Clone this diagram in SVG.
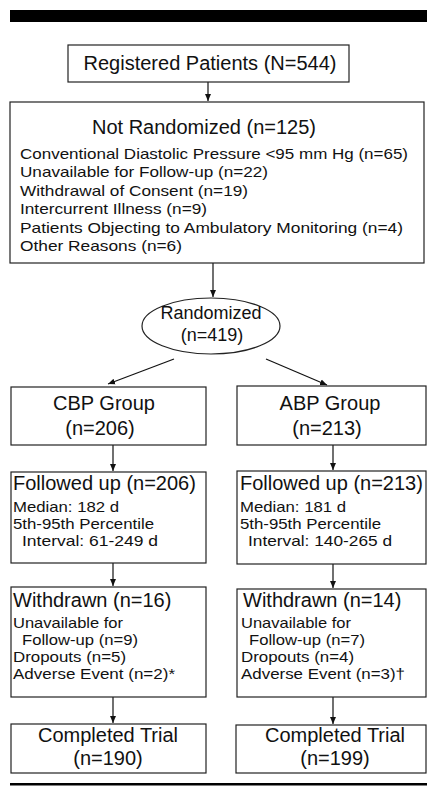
<svg xmlns="http://www.w3.org/2000/svg" width="427" height="788" viewBox="0 0 427 788">
<defs>
<marker id="ah" markerWidth="8" markerHeight="8" refX="7" refY="4" orient="auto" markerUnits="userSpaceOnUse">
<path d="M0,1 L7,4 L0,7 Z" fill="#111"/>
</marker>
<style>
.box{fill:#fff;stroke:#222;stroke-width:1.2}
.t{font-family:"Liberation Sans",Arial,Helvetica,sans-serif;fill:#111}
.big{font-size:20px}
.sm{font-size:15px}
.mid{text-anchor:middle}
.ln{stroke:#111;stroke-width:1.2;fill:none;marker-end:url(#ah)}
</style>
</defs>
<rect width="427" height="788" fill="#fff"/>
<rect x="10" y="10" width="417" height="12" fill="#000"/>
<rect x="10" y="783" width="417" height="2.5" fill="#000"/>

<g id="connectors">
<line class="ln" x1="208" y1="82" x2="208" y2="101"/>
<line class="ln" x1="213" y1="263" x2="213" y2="297"/>
<line class="ln" x1="174" y1="359" x2="108" y2="384"/>
<line class="ln" x1="266" y1="359" x2="327" y2="385"/>
<line class="ln" x1="113" y1="445" x2="113" y2="471"/>
<line class="ln" x1="333" y1="445" x2="333" y2="470"/>
<line class="ln" x1="113" y1="563" x2="113" y2="586"/>
<line class="ln" x1="333" y1="564" x2="333" y2="588"/>
<line class="ln" x1="113" y1="697" x2="113" y2="723"/>
<line class="ln" x1="333" y1="697" x2="333" y2="724"/>
</g>

<g id="registered">
<rect class="box" x="68" y="45" width="281" height="37"/>
<text class="t big mid" x="210" y="70">Registered Patients (N=544)</text>
</g>

<g id="not-randomized">
<rect class="box" x="10" y="102" width="414" height="161"/>
<text class="t big mid" x="204" y="134">Not Randomized (n=125)</text>
<text class="t sm" x="20" y="158.5" textLength="388" lengthAdjust="spacingAndGlyphs">Conventional Diastolic Pressure &lt;95 mm Hg (n=65)</text>
<text class="t sm" x="20" y="177" textLength="248" lengthAdjust="spacingAndGlyphs">Unavailable for Follow-up (n=22)</text>
<text class="t sm" x="20" y="195.5" textLength="228" lengthAdjust="spacingAndGlyphs">Withdrawal of Consent (n=19)</text>
<text class="t sm" x="20" y="214" textLength="187" lengthAdjust="spacingAndGlyphs">Intercurrent Illness (n=9)</text>
<text class="t sm" x="20" y="232.5" textLength="383" lengthAdjust="spacingAndGlyphs">Patients Objecting to Ambulatory Monitoring (n=4)</text>
<text class="t sm" x="20" y="251" textLength="162" lengthAdjust="spacingAndGlyphs">Other Reasons (n=6)</text>
</g>

<g id="randomized">
<ellipse cx="211" cy="326" rx="69" ry="28" fill="#fff" stroke="#222" stroke-width="1.2"/>
<text class="t mid" style="font-size:18px" x="211" y="319">Randomized</text>
<text class="t mid" style="font-size:18px" x="212" y="341">(n=419)</text>
</g>

<g id="cbp-group">
<rect class="box" x="11" y="387" width="195" height="58"/>
<text class="t big mid" x="104" y="410">CBP Group</text>
<text class="t big mid" x="100" y="435">(n=206)</text>
</g>

<g id="abp-group">
<rect class="box" x="237" y="386" width="189" height="59"/>
<text class="t big mid" x="330" y="410">ABP Group</text>
<text class="t big mid" x="327" y="435">(n=213)</text>
</g>

<g id="cbp-followed">
<rect class="box" x="11" y="472" width="195" height="91"/>
<text class="t big" x="13" y="490">Followed up (n=206)</text>
<text class="t sm" x="13" y="512" textLength="106" lengthAdjust="spacingAndGlyphs">Median: 182 d</text>
<text class="t sm" x="13" y="529" textLength="141" lengthAdjust="spacingAndGlyphs">5th-95th Percentile</text>
<text class="t sm" x="22" y="546" textLength="136" lengthAdjust="spacingAndGlyphs">Interval: 61-249 d</text>
</g>

<g id="abp-followed">
<rect class="box" x="237" y="471" width="189" height="93"/>
<text class="t big" x="240" y="490">Followed up (n=213)</text>
<text class="t sm" x="240" y="512" textLength="106" lengthAdjust="spacingAndGlyphs">Median: 181 d</text>
<text class="t sm" x="240" y="529" textLength="141" lengthAdjust="spacingAndGlyphs">5th-95th Percentile</text>
<text class="t sm" x="248" y="546" textLength="144" lengthAdjust="spacingAndGlyphs">Interval: 140-265 d</text>
</g>

<g id="cbp-withdrawn">
<rect class="box" x="11" y="587" width="195" height="110"/>
<text class="t big" x="13" y="607">Withdrawn (n=16)</text>
<text class="t sm" x="13" y="628" textLength="110" lengthAdjust="spacingAndGlyphs">Unavailable for</text>
<text class="t sm" x="22" y="645" textLength="116" lengthAdjust="spacingAndGlyphs">Follow-up (n=9)</text>
<text class="t sm" x="13" y="662" textLength="113" lengthAdjust="spacingAndGlyphs">Dropouts (n=5)</text>
<text class="t sm" x="13" y="679" textLength="162" lengthAdjust="spacingAndGlyphs">Adverse Event (n=2)*</text>
</g>

<g id="abp-withdrawn">
<rect class="box" x="237" y="589" width="189" height="108"/>
<text class="t big" x="243" y="607">Withdrawn (n=14)</text>
<text class="t sm" x="241" y="628" textLength="110" lengthAdjust="spacingAndGlyphs">Unavailable for</text>
<text class="t sm" x="249" y="645" textLength="116" lengthAdjust="spacingAndGlyphs">Follow-up (n=7)</text>
<text class="t sm" x="241" y="662" textLength="113" lengthAdjust="spacingAndGlyphs">Dropouts (n=4)</text>
<text class="t sm" x="241" y="679" textLength="164" lengthAdjust="spacingAndGlyphs">Adverse Event (n=3)†</text>
</g>

<g id="cbp-completed">
<rect class="box" x="11" y="724" width="195" height="49"/>
<text class="t big mid" x="108" y="742">Completed Trial</text>
<text class="t big mid" x="108" y="765">(n=190)</text>
</g>

<g id="abp-completed">
<rect class="box" x="236" y="725" width="190" height="48"/>
<text class="t big mid" x="335" y="742">Completed Trial</text>
<text class="t big mid" x="335" y="765">(n=199)</text>
</g>
</svg>
